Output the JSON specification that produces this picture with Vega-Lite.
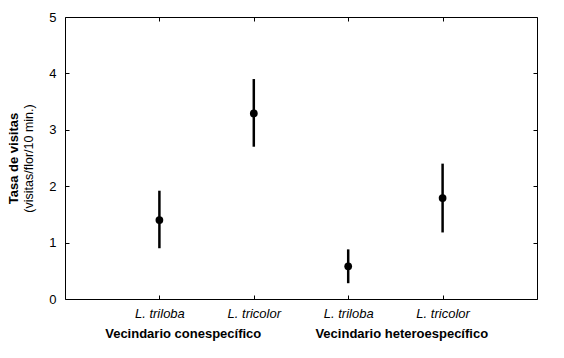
{
  "$schema": "https://vega.github.io/schema/vega-lite/v6.json",
  "width": 472,
  "height": 282,
  "autosize": {"type": "none"},
  "padding": {"left": 65, "top": 17, "right": 27, "bottom": 59},
  "background": "white",
  "config": {
    "font": "Liberation Sans",
    "view": {"stroke": null},
    "axis": {
      "grid": false,
      "domainColor": "black",
      "tickColor": "black",
      "labelColor": "black",
      "titleColor": "black",
      "domainWidth": 1,
      "tickWidth": 1,
      "labelFont": "Liberation Sans",
      "titleFont": "Liberation Sans"
    }
  },
  "data": {
    "values": [
      {"grupo": "Vecindario conespecífico", "especie": "L. triloba", "media": 1.4, "lo": 0.9, "hi": 1.92},
      {"grupo": "Vecindario conespecífico", "especie": "L. tricolor", "media": 3.29, "lo": 2.7, "hi": 3.9},
      {"grupo": "Vecindario heteroespecífico", "especie": "L. triloba", "media": 0.58, "lo": 0.28, "hi": 0.88},
      {"grupo": "Vecindario heteroespecífico", "especie": "L. tricolor", "media": 1.79, "lo": 1.18, "hi": 2.4}
    ]
  },
  "transform": [{"calculate": "datum.grupo + '|' + datum.especie", "as": "clave"}],
  "layer": [
    {
      "mark": {"type": "rule", "color": "black", "strokeWidth": 2.5},
      "encoding": {
        "x": {
          "field": "clave", "type": "nominal", "sort": null,
          "scale": {"type": "point", "padding": 1},
          "axis": {
            "orient": "bottom", "title": null, "tickSize": -4, "labelPadding": 12,
            "labelExpr": "split(datum.label, '|')[1]",
            "labelFontStyle": "italic", "labelFontSize": 13, "labelAngle": 0
          }
        },
        "y": {
          "field": "lo", "type": "quantitative",
          "scale": {"domain": [0, 5], "nice": false, "zero": false},
          "axis": {
            "orient": "left", "values": [0, 1, 2, 3, 4, 5], "tickSize": -4,
            "labelPadding": 13, "labelFontSize": 13,
            "title": "(visitas/flor/10 min.)", "titleFontWeight": "normal",
            "titleFontSize": 12.5, "titlePadding": 13
          }
        },
        "y2": {"field": "hi"}
      }
    },
    {
      "mark": {"type": "point", "filled": true, "color": "black", "opacity": 1, "size": 60, "shape": "circle"},
      "encoding": {
        "x": {
          "field": "clave", "type": "nominal", "sort": null,
          "scale": {"type": "point", "padding": 1},
          "axis": {"orient": "top", "title": null, "labels": false, "tickSize": -4}
        },
        "y": {
          "field": "media", "type": "quantitative",
          "axis": {"orient": "right", "title": null, "labels": false, "tickSize": -4, "values": [0, 1, 2, 3, 4, 5]}
        }
      }
    },
    {
      "mark": {"type": "point", "opacity": 0},
      "encoding": {
        "x": {
          "field": "grupo", "type": "nominal", "sort": null,
          "scale": {"type": "point", "padding": 0.58},
          "axis": {
            "orient": "bottom", "title": null, "ticks": false, "domain": false,
            "labelPadding": 28, "labelFontWeight": "bold", "labelFontSize": 13,
            "labelAngle": 0, "labelOffset": -9
          }
        },
        "y": {
          "field": "media", "type": "quantitative",
          "axis": {
            "orient": "left", "labels": false, "ticks": false, "domain": false,
            "title": "Tasa de visitas", "titleFontWeight": "bold", "titleFontSize": 13,
            "titlePadding": 45
          }
        }
      }
    }
  ],
  "resolve": {
    "scale": {"x": "independent"},
    "axis": {"x": "independent", "y": "independent"}
  }
}
